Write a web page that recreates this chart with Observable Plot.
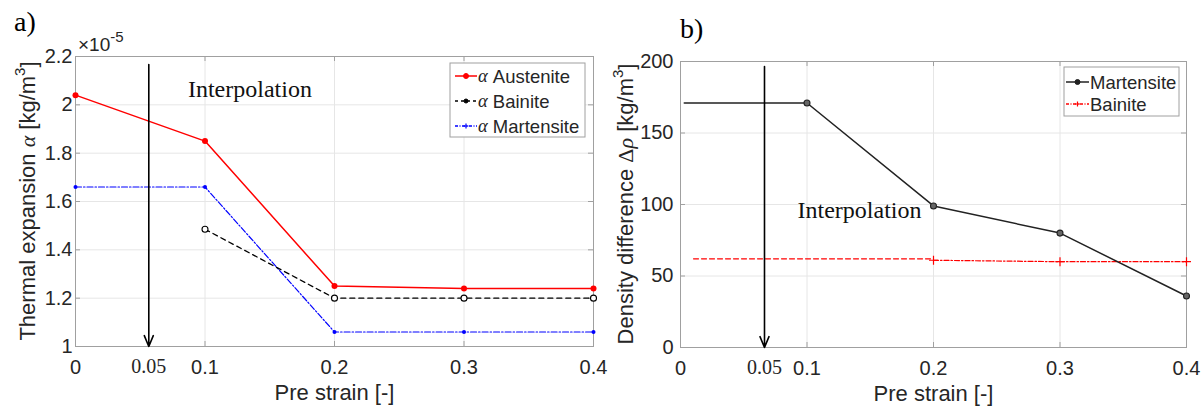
<!DOCTYPE html>
<html><head><meta charset="utf-8">
<script src="https://cdn.jsdelivr.net/npm/d3@7"></script>
<script src="https://cdn.jsdelivr.net/npm/@observablehq/plot@0.6"></script>
<style>
body{margin:0;background:#fff;}
#wrap{display:flex;width:1204px;height:410px;overflow:hidden;}
#wrap svg{display:block;}
</style></head><body><div id="wrap"></div>
<script>
// ---------- data ----------
const strainTicks = [0, 0.1, 0.2, 0.3, 0.4];
const alphaTicks = [1, 1.2, 1.4, 1.6, 1.8, 2, 2.2];
const rhoTicks = [0, 50, 100, 150, 200];

const austStrain = [0, 0.1, 0.2, 0.3, 0.4];
const austAlpha  = [2.04, 1.85, 1.25, 1.24, 1.24];
const bainStrain = [0.1, 0.2, 0.3, 0.4];
const bainAlpha  = [1.485, 1.2, 1.2, 1.2];
const martStrain = [0, 0.1, 0.2, 0.3, 0.4];
const martAlpha  = [1.66, 1.66, 1.06, 1.06, 1.06];

const martRhoStrain = [0.1, 0.2, 0.3, 0.4];
const martRho       = [171, 99, 80, 36];
const bainRhoStrain = [0.2, 0.3, 0.4];
const bainRho       = [61, 60, 60];

// annotations
const arrowA = {x: 0.0566, y1: 2.167, y2: 1.0};
const arrowB = {x: 0.0664, y1: 196.5, y2: 0};
const interpA = {x: 0.1347, y: 2.063};
const interpB = {x: 0.1415, y: 95.8};
const martExtStrain = [0.003, 0.1];
const martExtRho    = [171, 171];
const bainExtStrain = [0.0103, 0.2];
const bainExtRho    = [62, 62];

// ---------- helpers ----------
const rows = (xs, ys) => xs.map((x, i) => ({x, y: ys[i]}));
const SANS = "'Liberation Sans', Arial, Helvetica, sans-serif";
const SERIF = "'Liberation Serif', 'Times New Roman', serif";
const TXT = "#262626";
const GRID = "#e6e6e6";
const FRAME = "#a0a0a0";
const fmt = d => String(+d.toFixed(2));

function frameMarks(yTicks, frameW, frameH, yPad) {
  const inner = yTicks.slice(1, -1);
  const innerX = strainTicks.slice(1, -1);
  return [
    Plot.gridX(innerX, {stroke: GRID, strokeOpacity: 1, strokeWidth: 1}),
    Plot.gridY(inner, {stroke: GRID, strokeOpacity: 1, strokeWidth: 1}),
    Plot.ruleX(innerX, {stroke: FRAME, insetTop: frameH - 5}),
    Plot.ruleX(innerX, {stroke: FRAME, insetBottom: frameH - 5}),
    Plot.ruleY(inner, {stroke: FRAME, insetRight: frameW - 5}),
    Plot.ruleY(inner, {stroke: FRAME, insetLeft: frameW - 5}),
    Plot.frame({stroke: FRAME, strokeWidth: 1}),
    Plot.axisX(strainTicks, {tickSize: 0, tickPadding: 13, label: null, fill: TXT, fontSize: 20, tickFormat: fmt}),
    Plot.axisY(yTicks, {tickSize: 0, tickPadding: yPad, label: null, fill: TXT, fontSize: 20, tickFormat: fmt}),
    Plot.text(["Pre strain [-]"], {frameAnchor: "bottom", lineAnchor: "middle", dy: 46, fontSize: 22, fill: TXT})
  ];
}

function addText(g, x, y, parts, opts = {}) {
  const t = g.append("text").attr("x", x).attr("y", y)
    .attr("fill", opts.fill || TXT).attr("font-family", SANS)
    .attr("font-size", opts.size || 21)
    .attr("text-anchor", opts.anchor || "start");
  if (opts.rotate) t.attr("transform", `rotate(${opts.rotate},${x},${y})`);
  for (const p of parts) {
    const s = t.append("tspan").text(p.t);
    if (p.serif) s.attr("font-family", SERIF);
    if (p.italic) s.attr("font-style", "italic");
    if (p.size) s.attr("font-size", p.size);
    if (p.dy) s.attr("dy", p.dy);
  }
  return t;
}

function legend(svg, x0, y0, w, h, items, lx0, lx1, tx) {
  const g = d3.select(svg).append("g");
  g.append("rect").attr("x", x0).attr("y", y0).attr("width", w).attr("height", h)
    .attr("fill", "white").attr("stroke", "#a0a0a0").attr("stroke-width", 1);
  for (const it of items) {
    const y = y0 + it.dy;
    g.append("line").attr("x1", x0 + lx0).attr("x2", x0 + lx1).attr("y1", y).attr("y2", y)
      .attr("stroke", it.stroke).attr("stroke-width", it.width || 1.3)
      .attr("stroke-dasharray", it.dash || null);
    const mx = x0 + (lx0 + lx1) / 2;
    if (it.marker === "plus") {
      g.append("path").attr("d", `M${mx-2.5},${y}h5M${mx},${y-2.5}v5`).attr("stroke", it.stroke).attr("stroke-width", 1.2);
    } else {
      g.append("circle").attr("cx", mx).attr("cy", y).attr("r", it.r || 2.5)
        .attr("fill", it.fill).attr("stroke", it.stroke).attr("stroke-width", 1);
    }
    addText(g, x0 + tx, y, it.parts, {size: 18.5}).attr("dominant-baseline", "central");
  }
}

// ---------- panel a ----------
const wA = 612, hA = 410, mlA = 75, mrA = 19, mtA = 56, mbA = 64;
const fwA = wA - mlA - mrA, fhA = hA - mtA - mbA;
const austData = rows(austStrain, austAlpha);
const bainData = rows(bainStrain, bainAlpha);
const martData = rows(martStrain, martAlpha);

const plotA = Plot.plot({
  width: wA, height: hA, marginLeft: mlA, marginRight: mrA, marginTop: mtA, marginBottom: mbA,
  style: {fontFamily: SANS, fontSize: "20px", color: TXT, background: "white", overflow: "visible"},
  x: {domain: [0, 0.4]},
  y: {domain: [1, 2.2]},
  marks: [
    ...frameMarks(alphaTicks, fwA, fhA, 3),
    Plot.line(martData, {x: "x", y: "y", stroke: "#0000ff", strokeWidth: 1.2, strokeDasharray: "6,2,1.5,2"}),
    Plot.dot(martData, {x: "x", y: "y", r: 2, fill: "#0000ff"}),
    Plot.line(bainData, {x: "x", y: "y", stroke: "#000", strokeWidth: 1.3, strokeDasharray: "5,4"}),
    Plot.dot(bainData, {x: "x", y: "y", r: 3, stroke: "#000", fill: "white", strokeWidth: 1.1}),
    Plot.line(austData, {x: "x", y: "y", stroke: "#ff0000", strokeWidth: 1.5}),
    Plot.dot(austData, {x: "x", y: "y", r: 3, fill: "#ff0000"}),
    Plot.arrow([arrowA], {x1: "x", x2: "x", y1: "y1", y2: "y2", stroke: "#000", strokeWidth: 1.6, headLength: 11, headAngle: 45}),
    Plot.text([arrowA], {x: "x", frameAnchor: "bottom", lineAnchor: "middle", dy: 20, text: () => "0.05", fontFamily: SERIF, fontSize: 20, fill: TXT}),
    Plot.text([interpA], {x: "x", y: "y", text: () => "Interpolation", fontFamily: SERIF, fontSize: 24, fill: "#111"})
  ]
});
document.getElementById("wrap").append(plotA);
{
  const g = d3.select(plotA).append("g");
  addText(g, 27, mtA + fhA / 2, [
    {t: "Thermal expansion "}, {t: "α", serif: true, italic: true}, {t: " [kg/m"},
    {t: "3", size: 15, dy: "-0.55em"}, {t: "]", dy: "0.4em"}
  ], {rotate: -90, anchor: "middle", size: 22}).attr("dominant-baseline", "central");
  addText(g, 78, 51, [{t: "×10"}, {t: "-5", size: 15, dy: "-0.6em"}], {size: 19});
  addText(g, 14, 31, [{t: "a)"}], {size: 28}).attr("font-family", SERIF).attr("fill", "#000");
  legend(plotA, mlA + fwA - 143, mtA + 7, 135, 74, [
    {dy: 13, stroke: "#ff0000", fill: "#ff0000", r: 2.5, width: 1.5, parts: [{t: "α", serif: true, italic: true}, {t: " Austenite"}]},
    {dy: 38, stroke: "#000", fill: "#000", r: 2, dash: "3,3", parts: [{t: "α", serif: true, italic: true}, {t: " Bainite"}]},
    {dy: 63, stroke: "#0000ff", marker: "plus", dash: "3,1.5,1,1.5", parts: [{t: "α", serif: true, italic: true}, {t: " Martensite"}]}
  ], 5, 27, 28);
}

// ---------- panel b ----------
const wB = 592, hB = 410, mlB = 68, mrB = 18, mtB = 61, mbB = 63;
const fwB = wB - mlB - mrB, fhB = hB - mtB - mbB;
const martRhoData = rows(martRhoStrain, martRho);
const bainRhoData = rows(bainRhoStrain, bainRho);
const martExt = rows(martExtStrain, martExtRho);
const bainExt = rows(bainExtStrain, bainExtRho);

const plotB = Plot.plot({
  width: wB, height: hB, marginLeft: mlB, marginRight: mrB, marginTop: mtB, marginBottom: mbB,
  style: {fontFamily: SANS, fontSize: "20px", color: TXT, background: "white", overflow: "visible"},
  x: {domain: [0, 0.4]},
  y: {domain: [0, 200]},
  marks: [
    ...frameMarks(rhoTicks, fwB, fhB, 7),
    Plot.line(bainExt, {x: "x", y: "y", stroke: "#ff0000", strokeWidth: 1.2, strokeDasharray: "5,3"}),
    Plot.line(bainRhoData, {x: "x", y: "y", stroke: "#ff0000", strokeWidth: 1.2, strokeDasharray: "5,2,1.5,2"}),
    Plot.dot(bainRhoData, {x: "x", y: "y", r: 3, symbol: "plus", stroke: "#ff0000", strokeWidth: 1.2}),
    Plot.line(martExt, {x: "x", y: "y", stroke: "#222", strokeWidth: 1.6}),
    Plot.line(martRhoData, {x: "x", y: "y", stroke: "#222", strokeWidth: 1.5}),
    Plot.dot(martRhoData, {x: "x", y: "y", r: 3, stroke: "#222", fill: "#666", strokeWidth: 1.1}),
    Plot.arrow([arrowB], {x1: "x", x2: "x", y1: "y1", y2: "y2", stroke: "#000", strokeWidth: 1.6, headLength: 11, headAngle: 45}),
    Plot.text([arrowB], {x: "x", frameAnchor: "bottom", lineAnchor: "middle", dy: 20, text: () => "0.05", fontFamily: SERIF, fontSize: 20, fill: TXT}),
    Plot.text([interpB], {x: "x", y: "y", text: () => "Interpolation", fontFamily: SERIF, fontSize: 24, fill: "#111"})
  ]
});
document.getElementById("wrap").append(plotB);
{
  const g = d3.select(plotB).append("g");
  addText(g, 13, mtB + fhB / 2, [
    {t: "Density difference "}, {t: "Δ", serif: true}, {t: "ρ", serif: true, italic: true}, {t: " [kg/m"},
    {t: "3", size: 15, dy: "-0.55em"}, {t: "]", dy: "0.4em"}
  ], {rotate: -90, anchor: "middle", size: 22}).attr("dominant-baseline", "central");
  addText(g, 68, 38, [{t: "b)"}], {size: 28}).attr("font-family", SERIF).attr("fill", "#000");
  legend(plotB, mlB + fwB - 122, mtB + 6, 115, 49, [
    {dy: 15, stroke: "#222", fill: "#222", r: 2.5, width: 1.5, parts: [{t: "Martensite"}]},
    {dy: 37, stroke: "#ff0000", marker: "plus", dash: "3,1.5,1,1.5", parts: [{t: "Bainite"}]}
  ], 2, 25, 26);
}
</script></body></html>
